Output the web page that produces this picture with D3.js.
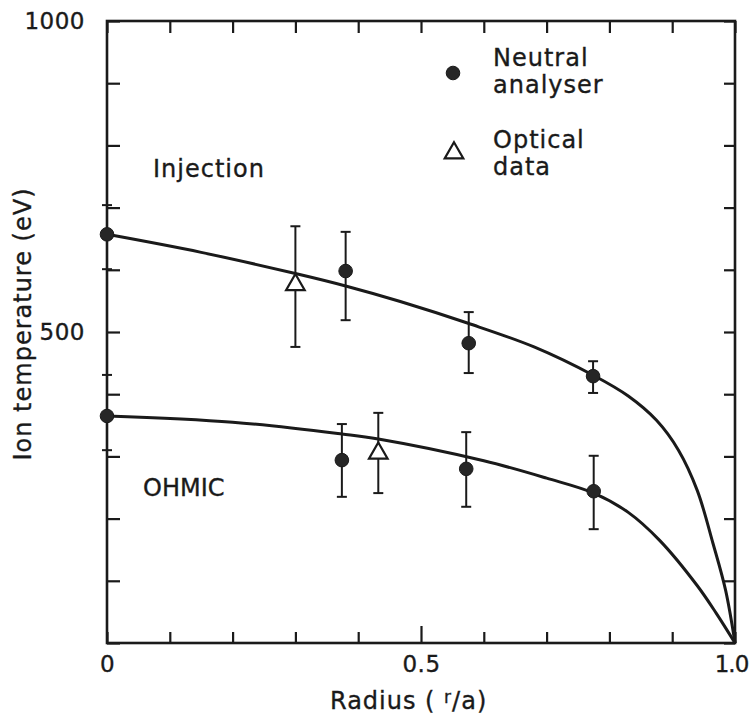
<!DOCTYPE html>
<meta charset="utf-8">
<style>
body { margin: 0; background: #fff; }
text { font-family: "DejaVu Sans", sans-serif; fill: #1a1a1a; letter-spacing: 1px; stroke: #1a1a1a; stroke-width: 0.35px; }
.axis path { display: none; }
.axis line { stroke: #1a1a1a; stroke-width: 2.2px; }
.axis text { font-size: 23px; letter-spacing: 0.5px; fill: #1a1a1a; }
.frame { fill: none; stroke: #1a1a1a; stroke-width: 2.6px; }
.fit { fill: none; stroke: #1a1a1a; stroke-width: 3px; }
.err { stroke: #1a1a1a; stroke-width: 2px; }
.dot { fill: #262626; stroke: #1a1a1a; stroke-width: 1px; }
.tri { fill: #fff; stroke: #1a1a1a; stroke-width: 2.2px; }
</style>
<body>
<script src="https://cdnjs.cloudflare.com/ajax/libs/d3/7.8.5/d3.min.js"></script>
<script>

var injNeutral = [
  {r: 0,     t: 657, lo: 601, hi: 704},
  {r: 0.38,  t: 598, lo: 519, hi: 661},
  {r: 0.576, t: 482, lo: 434, hi: 532},
  {r: 0.774, t: 429, lo: 402, hi: 453}
];
var injOptical = [
  {r: 0.30, t: 576, lo: 476, hi: 670}
];
var ohmNeutral = [
  {r: 0,     t: 365, lo: 310, hi: 431},
  {r: 0.374, t: 294, lo: 235, hi: 352},
  {r: 0.572, t: 280, lo: 219, hi: 339},
  {r: 0.775, t: 244, lo: 183, hi: 301}
];
var ohmOptical = [
  {r: 0.432, t: 305, lo: 241, hi: 370}
];

// the two drawn profiles, sampled along the curve
var injCurveR = [0, 0.15, 0.3, 0.38, 0.467, 0.575, 0.68, 0.775, 0.83, 0.875, 0.91, 0.94, 0.965, 0.985, 1.0];
var injCurveT = [657, 628, 594, 574, 549, 514, 476, 430, 397, 358, 310, 245, 160, 85, 0];
var ohmCurveR = [0, 0.2, 0.374, 0.432, 0.6, 0.7, 0.775, 0.83, 0.88, 0.94, 0.97, 1.0];
var ohmCurveT = [365, 355, 336, 328, 293, 265, 241, 210, 165, 92, 48, 0];

var xTicks = d3.range(0, 11).map(function(i) { return i / 10; });
var yTicks = d3.range(0, 11).map(function(i) { return i * 100; });
var xLabels = {0: "0", 0.5: "0.5", 1: "1.0"};
var yLabels = {500: "500", 1000: "1000"};

var width = 752, height = 719;
var margin = {left: 107, top: 21, right: 17, bottom: 76};
var w = width - margin.left - margin.right;
var h = height - margin.top - margin.bottom;

var svg = d3.select("body").append("svg")
    .attr("width", width)
    .attr("height", height);

var g = svg.append("g")
    .attr("transform", "translate(" + margin.left + "," + margin.top + ")");

var x = d3.scaleLinear().domain([0, 1]).range([0, w]);
var y = d3.scaleLinear().domain([0, 1000]).range([h, 0]);

// axes: ticks point inwards on all four sides
var xb = g.append("g").attr("class", "axis")
  .attr("transform", "translate(0," + h + ")")
  .call(d3.axisBottom(x).tickValues(xTicks).tickSizeInner(-11).tickSizeOuter(0)
        .tickPadding(13).tickFormat(function(d) { return xLabels[Math.round(d * 10) / 10] || ""; }));
xb.selectAll(".tick line")
  .attr("y2", function(d) { return Math.abs(d - 0.5) < 1e-6 ? -17 : -11; });
// last label sits tight at the page edge
xb.selectAll(".tick text")
  .filter(function(d) { return d === 1; })
  .attr("dx", -4)
  .style("letter-spacing", "-1px");

g.append("g").attr("class", "axis")
  .call(d3.axisTop(x).tickValues(xTicks).tickSizeInner(-12).tickSizeOuter(0).tickFormat(""));

g.append("g").attr("class", "axis")
  .call(d3.axisLeft(y).tickValues(yTicks).tickSizeInner(-13).tickSizeOuter(0)
        .tickPadding(22).tickFormat(function(d) { return yLabels[d] || ""; }));

g.append("g").attr("class", "axis")
  .attr("transform", "translate(" + w + ",0)")
  .call(d3.axisRight(y).tickValues(yTicks).tickSizeInner(-11).tickSizeOuter(0).tickFormat(""));

g.append("rect").attr("class", "frame")
  .attr("x", 0).attr("y", 0).attr("width", w).attr("height", h);

// fitted profiles
var line = d3.line()
  .x(function(d) { return x(d[0]); })
  .y(function(d) { return y(d[1]); })
  .curve(d3.curveCatmullRom.alpha(0.5));

g.append("path").attr("class", "fit").attr("d", line(d3.zip(injCurveR, injCurveT)));
g.append("path").attr("class", "fit").attr("d", line(d3.zip(ohmCurveR, ohmCurveT)));

// error bars
var all = injNeutral.concat(injOptical, ohmNeutral, ohmOptical);
var cap = 5;
var eb = g.append("g");
all.forEach(function(d) {
  eb.append("line").attr("class", "err")
    .attr("x1", x(d.r)).attr("x2", x(d.r)).attr("y1", y(d.lo)).attr("y2", y(d.hi));
  [d.lo, d.hi].forEach(function(v) {
    eb.append("line").attr("class", "err")
      .attr("x1", x(d.r) - cap).attr("x2", x(d.r) + cap).attr("y1", y(v)).attr("y2", y(v));
  });
});

// neutral analyser: filled dots
g.selectAll(".dot")
  .data(injNeutral.concat(ohmNeutral))
  .enter().append("circle")
  .attr("class", "dot")
  .attr("cx", function(d) { return x(d.r); })
  .attr("cy", function(d) { return y(d.t); })
  .attr("r", 6.8);

// optical data: open triangles
var tri = d3.symbol().type(d3.symbolTriangle).size(150);
g.selectAll(".tri")
  .data(injOptical.concat(ohmOptical))
  .enter().append("path")
  .attr("class", "tri")
  .attr("transform", function(d) { return "translate(" + x(d.r) + "," + y(d.t) + ")"; })
  .attr("d", tri);

// legend
svg.append("circle").attr("class", "dot").attr("cx", 453).attr("cy", 73).attr("r", 6.8);
svg.append("path").attr("class", "tri").attr("transform", "translate(454,153)").attr("d", tri);
var leg = [["Neutral", 66], ["analyser", 93], ["Optical", 148], ["data", 175]];
leg.forEach(function(l) {
  svg.append("text").attr("x", 493).attr("y", l[1]).style("font-size", "24px").text(l[0]);
});

// annotations
svg.append("text").attr("x", 153).attr("y", 177).style("font-size", "24px").text("Injection");
svg.append("text").attr("x", 143).attr("y", 496).style("font-size", "24px")
  .style("letter-spacing", "0px").text("OHMIC");

// axis titles
var xt = svg.append("text").attr("x", 330).attr("y", 709).style("font-size", "24px");
xt.append("tspan").text("Radius ( ");
xt.append("tspan").attr("dy", -6).style("font-size", "17px").text("r");
xt.append("tspan").attr("dy", 6).text("/a)");

svg.append("text")
  .attr("transform", "translate(31,324) rotate(-90)")
  .attr("text-anchor", "middle")
  .style("font-size", "24px")
  .text("Ion temperature (eV)");

</script>
</body>
